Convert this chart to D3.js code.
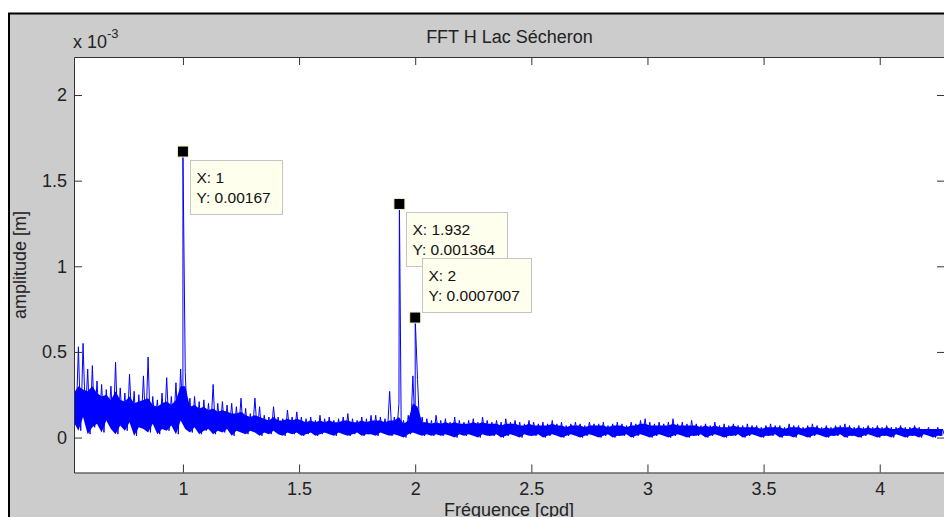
<!DOCTYPE html>
<html>
<head>
<meta charset="utf-8">
<script src="https://cdn.jsdelivr.net/npm/d3@7"></script>
<style>
  body { margin: 0; background: #fff; }
  svg { display: block; font-family: "Liberation Sans", Arial, Helvetica, sans-serif; }
</style>
</head>
<body>
<svg id="chart"></svg>
<script>
// spectrum, amplitudes in units of 1e-3 m
// per bin: highest swing (hi), top of the dense core (core), lowest swing (lo)
const freqStart = 0.53;
const freqStep = 0.02;
const ampHi = [
  0.30,0.53,0.55,0.40,0.42,0.33,0.31,0.28,0.30,0.44,
  0.29,0.26,0.37,0.27,0.25,0.36,0.47,0.24,0.22,0.26,
  0.35,0.24,0.32,0.40,0.38,0.23,0.24,0.21,0.22,0.20,
  0.31,0.20,0.21,0.19,0.20,0.18,0.23,0.17,0.14,0.23,
  0.18,0.13,0.12,0.18,0.12,0.11,0.16,0.12,0.15,0.12,
  0.11,0.12,0.10,0.13,0.11,0.12,0.10,0.11,0.12,0.14,
  0.11,0.10,0.12,0.11,0.13,0.13,0.12,0.11,0.27,0.12,
  0.20,0.10,0.13,0.36,0.34,0.12,0.11,0.10,0.13,0.10,
  0.11,0.09,0.12,0.10,0.09,0.10,0.11,0.09,0.12,0.10,
  0.09,0.10,0.09,0.11,0.09,0.10,0.09,0.08,0.10,0.09,
  0.08,0.09,0.08,0.10,0.08,0.09,0.07,0.08,0.09,0.08,
  0.07,0.09,0.08,0.08,0.09,0.07,0.08,0.09,0.08,0.07,
  0.09,0.08,0.10,0.11,0.09,0.08,0.09,0.08,0.09,0.11,
  0.08,0.09,0.08,0.10,0.08,0.07,0.08,0.07,0.09,0.07,
  0.08,0.07,0.08,0.07,0.07,0.08,0.07,0.07,0.06,0.07,
  0.08,0.07,0.07,0.06,0.08,0.07,0.07,0.06,0.07,0.08,
  0.07,0.06,0.07,0.06,0.07,0.07,0.08,0.07,0.06,0.07,
  0.06,0.07,0.06,0.07,0.06,0.07,0.06,0.06,0.07,0.06,
  0.06,0.07,0.06,0.05,0.06,0.05,0.06,0.05
];
const ampCore = [
  0.26,0.30,0.28,0.27,0.30,0.26,0.24,0.25,0.22,0.27,
  0.22,0.21,0.24,0.20,0.21,0.22,0.23,0.19,0.18,0.20,
  0.21,0.19,0.22,0.30,0.30,0.18,0.19,0.17,0.18,0.16,
  0.17,0.15,0.16,0.15,0.14,0.14,0.15,0.13,0.12,0.13,
  0.12,0.11,0.10,0.12,0.10,0.10,0.11,0.10,0.11,0.10,
  0.09,0.10,0.09,0.10,0.09,0.10,0.09,0.09,0.10,0.10,
  0.09,0.09,0.10,0.09,0.10,0.10,0.10,0.09,0.10,0.10,
  0.12,0.08,0.10,0.20,0.18,0.09,0.09,0.08,0.09,0.08,
  0.09,0.08,0.09,0.08,0.08,0.08,0.09,0.08,0.09,0.08,
  0.08,0.08,0.07,0.08,0.08,0.08,0.07,0.07,0.08,0.07,
  0.07,0.07,0.07,0.08,0.07,0.07,0.06,0.07,0.07,0.07,
  0.06,0.07,0.07,0.07,0.07,0.06,0.07,0.07,0.07,0.06,
  0.07,0.07,0.08,0.08,0.07,0.07,0.07,0.07,0.07,0.08,
  0.07,0.07,0.07,0.07,0.07,0.06,0.07,0.06,0.07,0.06,
  0.06,0.06,0.07,0.06,0.06,0.06,0.06,0.06,0.05,0.06,
  0.06,0.06,0.06,0.05,0.06,0.06,0.06,0.05,0.06,0.06,
  0.06,0.05,0.06,0.05,0.06,0.06,0.06,0.06,0.05,0.06,
  0.05,0.06,0.05,0.06,0.05,0.06,0.05,0.05,0.06,0.05,
  0.05,0.06,0.05,0.05,0.05,0.05,0.05,0.05
];
const ampLo = [
  0.09,0.04,0.12,0.02,0.06,0.08,0.03,0.10,0.05,0.02,
  0.07,0.04,0.09,0.01,0.06,0.05,0.03,0.08,0.02,0.05,
  0.04,0.07,0.02,0.10,0.05,0.03,0.06,0.02,0.04,0.05,
  0.02,0.04,0.03,0.05,0.01,0.04,0.03,0.02,0.04,0.03,
  0.01,0.03,0.02,0.04,0.02,0.01,0.03,0.02,0.03,0.01,
  0.02,0.03,0.01,0.02,0.03,0.02,0.01,0.03,0.02,0.01,
  0.02,0.03,0.01,0.02,0.02,0.01,0.03,0.02,0.01,0.02,
  0.01,0.00,0.02,0.03,0.02,0.01,0.02,0.01,0.02,0.01,
  0.02,0.01,0.00,0.02,0.01,0.02,0.01,0.00,0.02,0.01,
  0.01,0.02,0.00,0.01,0.02,0.01,0.00,0.02,0.01,0.01,
  0.02,0.00,0.01,0.02,0.01,0.00,0.01,0.02,0.01,0.00,
  0.01,0.02,0.01,0.00,0.01,0.02,0.00,0.01,0.01,0.02,
  0.00,0.01,0.02,0.01,0.00,0.01,0.02,0.01,0.00,0.01,
  0.02,0.01,0.00,0.01,0.01,0.02,0.00,0.01,0.02,0.01,
  0.00,0.01,0.01,0.02,0.00,0.01,0.02,0.01,0.00,0.01,
  0.01,0.02,0.00,0.01,0.01,0.00,0.02,0.01,0.00,0.01,
  0.02,0.01,0.00,0.01,0.01,0.02,0.00,0.01,0.01,0.00,
  0.01,0.02,0.01,0.00,0.01,0.01,0.00,0.02,0.01,0.00,
  0.01,0.01,0.00,0.02,0.01,0.00,0.01,0.01
];

// the three data tips (X in cpd, Y in m)
const peakFreq = [1, 1.932, 2];
const peakAmp = [0.00167, 0.001364, 0.0007007];

const xTicks = [1, 1.5, 2, 2.5, 3, 3.5, 4];
const yTicks = [0, 0.5, 1, 1.5, 2];

class FftPlot {
  constructor(_config) {
    this.config = {
      parentElement: _config.parentElement,
      containerWidth: 944,
      containerHeight: 517,
      margin: {top: 57, right: -1, bottom: 44.5, left: 74},
      tickLength: 8
    };
    this.initVis();
  }

  initVis() {
    let vis = this;
    let c = vis.config;

    vis.width = c.containerWidth - c.margin.left - c.margin.right;
    vis.height = c.containerHeight - c.margin.top - c.margin.bottom;

    vis.svg = d3.select(c.parentElement)
      .attr('width', c.containerWidth)
      .attr('height', c.containerHeight);

    // grey figure window with its black border
    vis.svg.append('rect')
      .attr('x', 9).attr('y', 13.5)
      .attr('width', 1000).attr('height', 600)
      .attr('fill', '#cccccc')
      .attr('stroke', '#000').attr('stroke-width', 2);

    vis.chart = vis.svg.append('g')
      .attr('transform', `translate(${c.margin.left}, ${c.margin.top})`);

    vis.chart.append('rect')
      .attr('width', vis.width).attr('height', vis.height)
      .attr('fill', '#fff');

    vis.svg.append('defs').append('clipPath').attr('id', 'plot-clip')
      .append('rect').attr('width', vis.width).attr('height', vis.height);

    vis.xScale = d3.scaleLinear().domain([0.531, 4.281]).range([0, vis.width]);
    vis.yScale = d3.scaleLinear().domain([-0.204, 2.222]).range([vis.height, 0]);

    vis.updateVis();
  }

  updateVis() {
    let vis = this;

    vis.bins = ampHi.map((a, i) => ({
      f: freqStart + i * freqStep, hi: a, core: ampCore[i], lo: ampLo[i]
    }));

    vis.series = [];
    vis.bins.forEach(b => {
      vis.series.push({f: b.f, a: b.hi});
      vis.series.push({f: b.f + freqStep / 2, a: b.lo});
    });
    peakFreq.forEach((f, i) => vis.series.push({f: f, a: peakAmp[i] * 1e3}));
    vis.series.sort((p, q) => p.f - q.f);

    vis.renderVis();
  }

  renderVis() {
    let vis = this;
    let tl = vis.config.tickLength;

    // dense core of the noise
    vis.chart.append('path')
      .datum(vis.bins)
      .attr('clip-path', 'url(#plot-clip)')
      .attr('fill', '#0000ff')
      .attr('d', d3.area()
        .x(d => vis.xScale(d.f))
        .y0(d => vis.yScale(d.lo))
        .y1(d => vis.yScale(d.core)));

    // the trace itself, swinging between lo and hi
    vis.chart.append('path')
      .datum(vis.series)
      .attr('clip-path', 'url(#plot-clip)')
      .attr('fill', 'none')
      .attr('stroke', '#0000ff')
      .attr('stroke-width', 1)
      .attr('d', d3.line().x(d => vis.xScale(d.f)).y(d => vis.yScale(d.a)));

    // axes, ticks inward on all four sides
    let fmt = d3.format('~g');
    let xBottom = vis.chart.append('g')
      .attr('class', 'axis')
      .attr('transform', `translate(0, ${vis.height})`)
      .call(d3.axisBottom(vis.xScale).tickValues(xTicks).tickSize(-tl).tickSizeOuter(0).tickFormat(fmt));
    xBottom.selectAll('text').attr('y', 22).attr('dy', null);

    vis.chart.append('g')
      .attr('class', 'axis')
      .call(d3.axisTop(vis.xScale).tickValues(xTicks).tickSize(-tl).tickSizeOuter(0).tickFormat(''));

    vis.chart.append('g')
      .attr('class', 'axis')
      .call(d3.axisLeft(vis.yScale).tickValues(yTicks).tickSize(-tl).tickSizeOuter(0).tickPadding(7).tickFormat(fmt));

    vis.chart.append('g')
      .attr('class', 'axis')
      .attr('transform', `translate(${vis.width}, 0)`)
      .call(d3.axisRight(vis.yScale).tickValues(yTicks).tickSize(-tl).tickSizeOuter(0).tickFormat(''));

    vis.chart.selectAll('.axis path, .axis line').attr('stroke', '#333');
    vis.chart.selectAll('.axis text')
      .attr('fill', '#222')
      .style('font-size', '18px')
      .style('font-family', null);

    // labels
    vis.svg.append('text')
      .attr('x', 74 + 871 / 2).attr('y', 43)
      .attr('text-anchor', 'middle')
      .attr('fill', '#222').style('font-size', '18px')
      .text('FFT H Lac Sécheron');

    vis.svg.append('text')
      .attr('x', 509).attr('y', 516)
      .attr('text-anchor', 'middle')
      .attr('fill', '#222').style('font-size', '18px')
      .text('Fréquence [cpd]');

    vis.svg.append('text')
      .attr('transform', 'translate(26, 265) rotate(-90)')
      .attr('text-anchor', 'middle')
      .attr('fill', '#222').style('font-size', '18px')
      .text('amplitude [m]');

    let expo = vis.svg.append('text')
      .attr('x', 73).attr('y', 48)
      .attr('fill', '#222').style('font-size', '18px');
    expo.append('tspan').text('x 10');
    expo.append('tspan').attr('dy', -10).style('font-size', '13px').text('-3');

    // data tips
    peakFreq.forEach((f, i) => {
      let px = vis.xScale(f);
      let py = vis.yScale(peakAmp[i] * 1e3);
      let tip = vis.chart.append('g');
      let box = tip.append('rect')
        .attr('fill', '#ffffee')
        .attr('stroke', '#c4c4c4')
        .attr('stroke-width', 1);
      let t1 = tip.append('text').style('font-size', '15.5px').attr('fill', '#111').text(`X: ${f}`);
      let t2 = tip.append('text').style('font-size', '15.5px').attr('fill', '#111').text(`Y: ${peakAmp[i]}`);
      let w = Math.max(t1.node().getComputedTextLength(), t2.node().getComputedTextLength()) + 18;
      let bx = Math.round(px + 7) + 0.5;
      let by = (i === 2 ? Math.round(py - 60) : Math.round(py + 8)) + 0.5;
      box.attr('x', bx).attr('y', by).attr('width', Math.round(w)).attr('height', 54);
      t1.attr('x', bx + 6).attr('y', by + 22);
      t2.attr('x', bx + 6).attr('y', by + 42);

      vis.chart.append('rect')
        .attr('x', px - 5.5).attr('y', py - 5.5)
        .attr('width', 11).attr('height', 11)
        .attr('fill', '#000')
        .attr('stroke', '#f4f0cc').attr('stroke-width', 1);
    });
  }
}

new FftPlot({parentElement: '#chart'});
</script>
</body>
</html>
